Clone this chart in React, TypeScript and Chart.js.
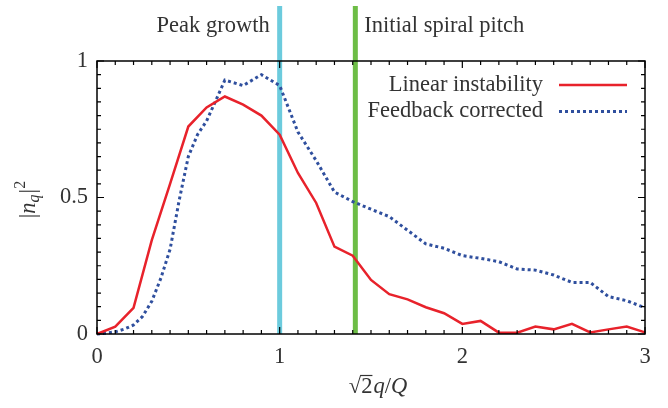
import React, { useEffect, useRef } from 'react';
import { Chart, registerables } from 'chart.js';

Chart.register(...registerables);

// ---- data ----
const xLinear = [0, 0.1, 0.2, 0.3, 0.4, 0.5, 0.6, 0.7, 0.8, 0.9, 1.0, 1.1, 1.2, 1.3, 1.4, 1.5, 1.6, 1.7, 1.8, 1.9, 2.0, 2.1, 2.2, 2.3, 2.4, 2.5, 2.6, 2.7, 2.8, 2.9, 3.0];
const linearInstability = [0, 0.027, 0.096, 0.344, 0.55, 0.76, 0.83, 0.87, 0.84, 0.8, 0.73, 0.59, 0.48, 0.32, 0.287, 0.198, 0.146, 0.127, 0.098, 0.076, 0.037, 0.048, 0.005, 0.005, 0.027, 0.017, 0.037, 0.006, 0.017, 0.027, 0.006];

const xFeedback = [0, 0.05, 0.1, 0.15, 0.2, 0.25, 0.3, 0.35, 0.4, 0.45, 0.5, 0.55, 0.6, 0.65, 0.7, 0.8, 0.9, 1.0, 1.1, 1.2, 1.3, 1.4, 1.5, 1.6, 1.7, 1.8, 1.9, 2.0, 2.1, 2.2, 2.3, 2.4, 2.5, 2.6, 2.7, 2.8, 2.9, 3.0];
const feedbackCorrected = [0, 0.003, 0.008, 0.018, 0.033, 0.065, 0.12, 0.205, 0.31, 0.49, 0.65, 0.73, 0.78, 0.855, 0.93, 0.91, 0.95, 0.91, 0.74, 0.635, 0.52, 0.485, 0.457, 0.43, 0.38, 0.33, 0.314, 0.287, 0.277, 0.265, 0.238, 0.234, 0.216, 0.189, 0.189, 0.137, 0.122, 0.096];

const seriesLabels = ['Linear instability', 'Feedback corrected'];
const seriesColors = ['#e8222b', '#2f4f9e'];

const markerValues = [1, Math.SQRT2];
const markerLabels = ['Peak growth', 'Initial spiral pitch'];
const markerColors = ['#6ccbdd', '#6dbd46'];

const xTickLabels = ['0', '1', '2', '3'];
const yTickLabels = ['0', '0.5', '1'];

const xMin = 0, xMax = 3, xMajorStep = 1, xMinorStep = 0.1;
const yMin = 0, yMax = 1, yMajorStep = 0.5, yMinorStep = 0.05;

const FONT = '"Liberation Serif", "Times New Roman", serif';
const FS = 22.5;
const TEXT = '#333333';

const overlayPlugin = {
  id: 'overlay',
  beforeDatasetsDraw(chart: any) {
    const { ctx, chartArea, scales } = chart;
    ctx.save();
    markerValues.forEach((v, i) => {
      const px = scales.x.getPixelForValue(v);
      ctx.strokeStyle = markerColors[i];
      ctx.lineWidth = 5;
      ctx.beginPath();
      ctx.moveTo(px, 6);
      ctx.lineTo(px, chartArea.bottom);
      ctx.stroke();
      ctx.fillStyle = TEXT;
      ctx.font = `${FS}px ${FONT}`;
      ctx.textBaseline = 'alphabetic';
      if (i === 0) {
        ctx.textAlign = 'right';
        ctx.fillText(markerLabels[i], px - 10, 32);
      } else {
        ctx.textAlign = 'left';
        ctx.fillText(markerLabels[i], px + 9, 32);
      }
    });
    ctx.restore();
  },
  afterDraw(chart: any) {
    const { ctx, chartArea, scales } = chart;
    const { left, right, top, bottom } = chartArea;
    ctx.save();
    // frame
    ctx.strokeStyle = '#000';
    ctx.lineWidth = 1.5;
    ctx.strokeRect(left, top, right - left, bottom - top);
    // ticks
    ctx.lineWidth = 1.2;
    ctx.beginPath();
    const nx = Math.round((xMax - xMin) / xMinorStep);
    for (let i = 0; i <= nx; i++) {
      const v = xMin + i * xMinorStep;
      const major = Math.abs(v / xMajorStep - Math.round(v / xMajorStep)) < 1e-6;
      const len = major ? 7 : 4;
      const px = scales.x.getPixelForValue(v);
      ctx.moveTo(px, bottom);
      ctx.lineTo(px, bottom - len);
      ctx.moveTo(px, top);
      ctx.lineTo(px, top + len);
    }
    const ny = Math.round((yMax - yMin) / yMinorStep);
    for (let i = 0; i <= ny; i++) {
      const v = yMin + i * yMinorStep;
      const major = Math.abs(v / yMajorStep - Math.round(v / yMajorStep)) < 1e-6;
      const len = major ? 7 : 4;
      const py = scales.y.getPixelForValue(v);
      ctx.moveTo(left, py);
      ctx.lineTo(left + len, py);
      ctx.moveTo(right, py);
      ctx.lineTo(right - len, py);
    }
    ctx.stroke();

    // legend
    ctx.font = `${FS}px ${FONT}`;
    ctx.fillStyle = TEXT;
    ctx.textAlign = 'right';
    ctx.textBaseline = 'alphabetic';
    const legTextRight = 543;
    const legBaselines = [91, 117];
    const legLineY = [85, 111.5];
    seriesLabels.forEach((lab, i) => {
      ctx.fillStyle = TEXT;
      ctx.fillText(lab, legTextRight, legBaselines[i]);
      ctx.strokeStyle = seriesColors[i];
      ctx.lineWidth = i === 0 ? 2.5 : 3;
      ctx.setLineDash(i === 0 ? [] : [3, 3]);
      ctx.beginPath();
      ctx.moveTo(559, legLineY[i]);
      ctx.lineTo(627, legLineY[i]);
      ctx.stroke();
    });
    ctx.setLineDash([]);

    // x axis title: sqrt(2) q / Q
    ctx.fillStyle = TEXT;
    ctx.textAlign = 'left';
    const up = `${FS}px ${FONT}`;
    const it = `italic ${FS}px ${FONT}`;
    const parts: [string, string][] = [['√', up], ['2', up], ['q', it], ['/', up], ['Q', it]];
    let total = 0;
    const widths = parts.map(([t, f]) => { ctx.font = f; const w = ctx.measureText(t).width; total += w; return w; });
    let xx = 377.5 - total / 2;
    const base = 393;
    parts.forEach(([t, f], i) => {
      ctx.font = f;
      ctx.fillText(t, xx, base);
      if (i === 1) {
        ctx.strokeStyle = TEXT;
        ctx.lineWidth = 1.2;
        ctx.beginPath();
        ctx.moveTo(xx - 1, base - 17.5);
        ctx.lineTo(xx + widths[i], base - 17.5);
        ctx.stroke();
      }
      xx += widths[i] + (i === 1 ? 1 : 0);
    });

    // y axis title: |n_q|^2
    ctx.save();
    ctx.translate(35, 200);
    ctx.rotate(-Math.PI / 2);
    const yparts: [string, string, number][] = [
      ['|', up, 0],
      ['n', it, 0],
      ['q', `italic 16px ${FONT}`, 4],
      ['|', up, 0],
      ['2', `16px ${FONT}`, -10],
    ];
    let ytotal = 0;
    const yw = yparts.map(([t, f]) => { ctx.font = f; const w = ctx.measureText(t).width; ytotal += w; return w; });
    let yx = -ytotal / 2;
    yparts.forEach(([t, f, dy], i) => {
      ctx.font = f;
      ctx.fillText(t, yx, dy);
      yx += yw[i] + (i === 2 ? 1 : 0);
    });
    ctx.restore();

    ctx.restore();
  },
};

export default function App() {
  const ref = useRef<HTMLCanvasElement | null>(null);
  useEffect(() => {
    if (!ref.current) return;
    const chart = new Chart(ref.current, {
      type: 'line',
      data: {
        datasets: [
          {
            label: seriesLabels[0],
            data: xLinear.map((x, i) => ({ x, y: linearInstability[i] })),
            borderColor: seriesColors[0],
            borderWidth: 2.5,
            pointRadius: 0,
            tension: 0,
            fill: false,
            clip: 4,
          },
          {
            label: seriesLabels[1],
            data: xFeedback.map((x, i) => ({ x, y: feedbackCorrected[i] })),
            borderColor: seriesColors[1],
            borderWidth: 3,
            borderDash: [3, 3],
            borderCapStyle: 'butt',
            pointRadius: 0,
            tension: 0,
            fill: false,
            clip: 4,
          },
        ],
      } as any,
      options: {
        animation: false,
        responsive: false,
        maintainAspectRatio: false,
        layout: { padding: { left: 0, right: 23, top: 61, bottom: 0 } },
        plugins: { legend: { display: false }, tooltip: { enabled: false } },
        scales: {
          x: {
            type: 'linear',
            min: xMin,
            max: xMax,
            grid: { display: false, drawTicks: false },
            border: { display: false },
            ticks: {
              stepSize: xMajorStep,
              autoSkip: false,
              maxRotation: 0,
              padding: 10,
              color: TEXT,
              font: { family: FONT, size: FS },
              callback: (_v: any, i: number) => xTickLabels[i],
            },
            afterFit: (s: any) => { s.height = 74; },
          },
          y: {
            type: 'linear',
            min: yMin,
            max: yMax,
            grid: { display: false, drawTicks: false },
            border: { display: false },
            ticks: {
              stepSize: yMajorStep,
              padding: 9,
              color: TEXT,
              font: { family: FONT, size: FS },
              callback: (_v: any, i: number) => yTickLabels[i],
            },
            afterFit: (s: any) => { s.width = 97; },
          },
        },
      } as any,
      plugins: [overlayPlugin],
    });
    return () => chart.destroy();
  }, []);
  return (
    <div style={{ position: 'absolute', left: 0, top: 0, width: 668, height: 408, background: '#fff' }}>
      <canvas ref={ref} width={668} height={408} style={{ width: 668, height: 408 }} />
    </div>
  );
}
